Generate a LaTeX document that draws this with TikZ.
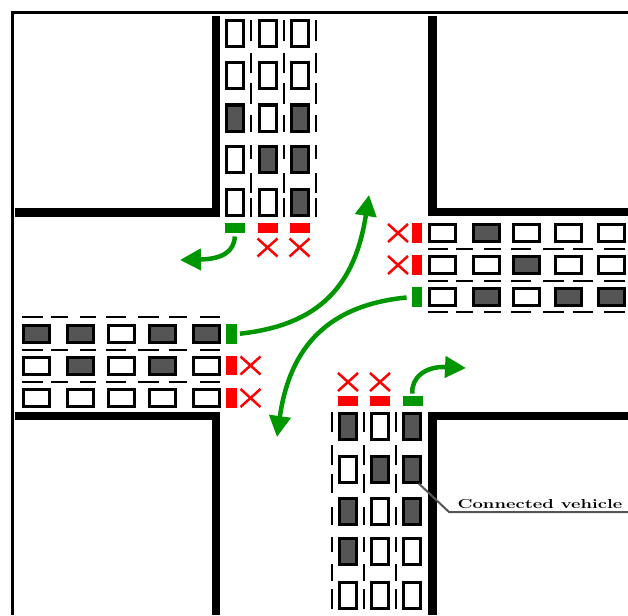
\documentclass[tikz,border=0pt]{standalone}
\usetikzlibrary{arrows.meta,shapes.misc}
\definecolor{sigred}{RGB}{255,0,0}
\definecolor{siggreen}{RGB}{0,150,0}
\definecolor{cv}{RGB}{85,85,85}
\tikzset{
  wall/.style={line width=8.5pt,line join=miter},
  lane/.style={line width=2pt},
  carh/.style={draw,line width=3pt,inner sep=0pt,minimum width=26pt,minimum height=17pt},
  carv/.style={draw,line width=3pt,inner sep=0pt,minimum width=17pt,minimum height=26pt},
  sigh/.style={inner sep=0pt,minimum width=20pt,minimum height=10.5pt},
  sigv/.style={inner sep=0pt,minimum width=10.5pt,minimum height=19.5pt},
  xmark/.style={cross out,draw=sigred,line width=2.5pt,inner sep=0pt,minimum width=17.5pt,minimum height=15.5pt},
  turn/.style={siggreen,line width=4.5pt,-{Triangle[length=21pt,width=21pt]}},
}
\begin{document}
\begin{tikzpicture}[x=1pt,y=-1pt]
\useasboundingbox (0,0) rectangle (628,615);
\draw[line width=2.5pt] (12.5,615) -- (12.5,12.5) -- (628,12.5);

% kerbs
\draw[wall] (15,212.5) -- (216,212.5) -- (216,16);
\draw[wall] (628,212) -- (432.5,212) -- (432.5,16);
\draw[wall] (15,416) -- (216,416) -- (216,615);
\draw[wall] (628,416) -- (432.5,416) -- (432.5,615);

% lane marks
\foreach \s/\e in {20/41,53/73,83/104,115/132,145/159,173/193,198/217}
  \foreach \x in {250.5,283.5,315.5}
    \draw[lane] (\x,\s) -- (\x,\e);
\foreach \s/\e in {412/432,445/465,474/493,507/525,537/552,564/581,589/609}
  \foreach \x in {332,364,396}
    \draw[lane] (\x,\s) -- (\x,\e);
\foreach \s/\e in {428/448,456/473,484/501,511/531,543/564,573/593,604/625}
  \foreach \y in {249,281,312}
    \draw[lane] (\s,\y) -- (\e,\y);
\foreach \s/\e in {22/43,51/68,80/96,106/126,138/159,169/187,200/220}
  \foreach \y in {317,350,382}
    \draw[lane] (\s,\y) -- (\e,\y);

% north arm
\foreach \y/\a/\b/\c [count=\r] in {34/white/white/white,76/white/white/white,118/cv/white/cv,159/white/cv/cv,202.5/white/white/cv}{
  \node[carv,fill=\a] (n\r a) at (235,\y) {};
  \node[carv,fill=\b] (n\r b) at (267.5,\y) {};
  \node[carv,fill=\c] (n\r c) at (299.5,\y) {};
}
% south arm
\foreach \y/\a/\b/\c [count=\r] in {426/cv/white/cv,469/white/cv/cv,511/cv/white/cv,551.5/cv/white/white,595/white/white/white}{
  \node[carv,fill=\a] (s\r a) at (348,\y) {};
  \node[carv,fill=\b] (s\r b) at (380,\y) {};
  \node[carv,fill=\c] (s\r c) at (412,\y) {};
}
% east arm
\foreach \x/\a/\b/\c [count=\r] in {442.5/white/white/white,486/cv/white/cv,526.5/white/cv/white,568/white/white/cv,611/white/white/cv}{
  \node[carh,fill=\a] (e\r a) at (\x,233) {};
  \node[carh,fill=\b] (e\r b) at (\x,265) {};
  \node[carh,fill=\c] (e\r c) at (\x,297) {};
}
% west arm
\foreach \x/\a/\b/\c [count=\r] in {36.5/cv/white/white,80/cv/cv/white,121/white/white/white,162.5/cv/cv/white,206/cv/white/white}{
  \node[carh,fill=\a] (w\r a) at (\x,333.5) {};
  \node[carh,fill=\b] (w\r b) at (\x,365.5) {};
  \node[carh,fill=\c] (w\r c) at (\x,398) {};
}

% signals
\node[sigh,fill=siggreen] (sn1) at (235,228) {};
\node[sigh,fill=sigred] (sn2) at (267.5,228) {};
\node[sigh,fill=sigred] (sn3) at (299.5,228) {};
\node[sigh,fill=sigred] (ss1) at (348,401) {};
\node[sigh,fill=sigred] (ss2) at (380,401) {};
\node[sigh,fill=siggreen] (ss3) at (412.5,401) {};
\node[sigv,fill=sigred] (se1) at (417,233) {};
\node[sigv,fill=sigred] (se2) at (417,265) {};
\node[sigv,fill=siggreen] (se3) at (417,297) {};
\node[sigv,fill=siggreen] (sw1) at (231.5,334) {};
\node[sigv,fill=sigred] (sw2) at (231.5,365.5) {};
\node[sigv,fill=sigred] (sw3) at (231.5,398) {};

\node[xmark] (xn2) at (267.5,247.5) {};
\node[xmark] (xn3) at (299.5,247.5) {};
\node[xmark] (xs1) at (348,382) {};
\node[xmark] (xs2) at (380,382) {};
\node[xmark] (xe1) at (398,233) {};
\node[xmark] (xe2) at (398,265) {};
\node[xmark] (xw2) at (250.5,365.5) {};
\node[xmark] (xw3) at (250.5,398) {};

% turning movements
\coordinate (tn) at (180,260);
\coordinate (ts) at (466,368);
\coordinate (te) at (277,437);
\coordinate (tw) at (369,195);
\draw[turn,shorten <=3pt] (sn1.south) .. controls (234,252) and (222,259) .. (tn);
\draw[turn,shorten <=2pt] (ss3.north) .. controls (411,378) and (425,366) .. (ts);
\draw[turn,shorten <=5pt] (se3.west) .. controls (330,305) and (290,345) .. (te);
\draw[turn,shorten <=3pt] (sw1.east) .. controls (320,325) and (355,285) .. (tw);

% label
\node[inner sep=0pt,xscale=1.42,font=\bfseries\fontsize{13}{13}\selectfont\scshape] (cvlabel) at (540,504) {Connected vehicle};
\coordinate (lbend) at (449,512);
\coordinate (lend) at (628,512);
\draw[line width=2pt,cv] (s2c.-65) -- (lbend) -- (lend);
\end{tikzpicture}
\end{document}
